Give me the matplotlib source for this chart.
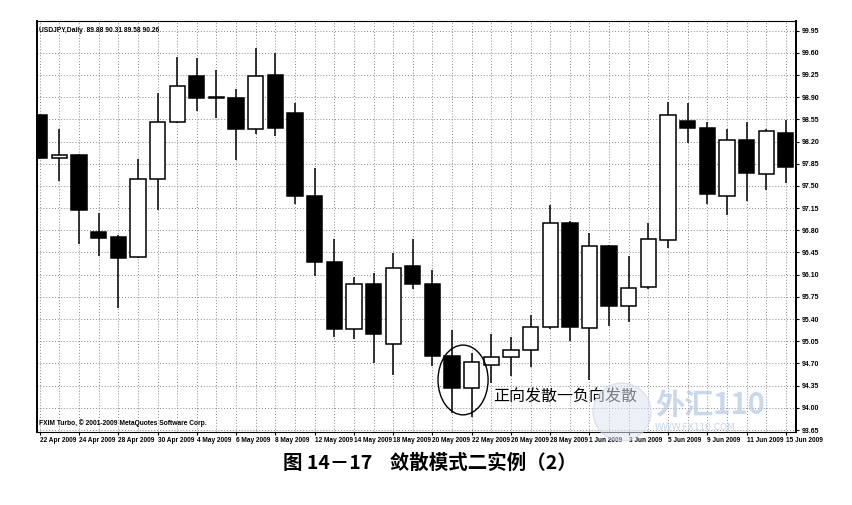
import matplotlib.pyplot as plt
from matplotlib.patches import Ellipse
import numpy as np

# USDJPY daily bars, 22 Apr 2009 - 15 Jun 2009
dates = ["22 Apr 2009", "23 Apr 2009", "24 Apr 2009", "27 Apr 2009", "28 Apr 2009",
         "29 Apr 2009", "30 Apr 2009", "1 May 2009", "4 May 2009", "5 May 2009",
         "6 May 2009", "7 May 2009", "8 May 2009", "11 May 2009", "12 May 2009",
         "13 May 2009", "14 May 2009", "15 May 2009", "18 May 2009", "19 May 2009",
         "20 May 2009", "21 May 2009", "22 May 2009", "25 May 2009", "26 May 2009",
         "27 May 2009", "28 May 2009", "29 May 2009", "1 Jun 2009", "2 Jun 2009",
         "3 Jun 2009", "4 Jun 2009", "5 Jun 2009", "8 Jun 2009", "9 Jun 2009",
         "10 Jun 2009", "11 Jun 2009", "12 Jun 2009", "15 Jun 2009"]

opens = [98.62, 97.94, 97.99, 96.78, 96.69, 96.38, 97.61, 98.51, 99.24, 98.90,
         98.89, 98.39, 99.25, 98.65, 97.34, 96.30, 95.24, 95.95, 95.00, 96.23,
         95.96, 94.82, 94.31, 94.68, 94.81, 94.91, 95.27, 96.92, 95.26, 96.55,
         95.61, 95.90, 96.65, 98.53, 98.42, 97.34, 98.23, 97.69, 98.34]
highs = [98.64, 98.39, 98.00, 97.07, 96.72, 97.93, 98.96, 99.54, 99.52, 99.32,
         99.03, 99.68, 99.60, 98.81, 97.79, 96.67, 96.07, 96.13, 96.44, 96.67,
         96.18, 95.23, 94.86, 95.17, 95.11, 95.46, 97.20, 96.94, 96.76, 96.57,
         96.39, 96.92, 98.83, 98.80, 98.51, 98.39, 98.51, 98.40, 98.54]
lows = [97.92, 97.58, 96.59, 96.40, 95.58, 96.36, 97.12, 98.49, 98.68, 98.57,
        97.91, 98.32, 98.29, 97.21, 96.08, 95.11, 95.08, 94.70, 94.52, 95.88,
        94.66, 93.92, 93.85, 94.39, 94.50, 94.65, 95.25, 95.06, 94.44, 95.29,
        95.36, 95.88, 96.52, 98.17, 97.21, 97.04, 97.26, 97.43, 97.55]
closes = [97.94, 97.98, 97.12, 96.68, 96.37, 97.61, 98.51, 99.07, 98.89, 98.88,
          98.40, 99.24, 98.42, 97.34, 96.30, 95.24, 95.95, 95.17, 96.21, 95.96,
          94.82, 94.32, 94.72, 94.81, 94.92, 95.28, 96.92, 95.28, 96.55, 95.61,
          95.89, 96.67, 98.62, 98.42, 97.37, 98.22, 97.70, 98.37, 97.80]

price_ticks = [93.65, 94.00, 94.35, 94.70, 95.05, 95.40, 95.75, 96.10, 96.45, 96.80,
               97.15, 97.50, 97.85, 98.20, 98.55, 98.90, 99.25, 99.60, 99.95]

header = "USDJPY,Daily  89.88 90.31 89.58 90.26"
footer = "FXIM Turbo, \u00a9 2001-2009 MetaQuotes Software Corp."
note = "正向发散一负向发散"
caption = "图 14－17    敛散模式二实例（2）"

cjk = ["Noto Sans CJK SC", "DejaVu Sans"]
small = "Liberation Sans"

fig = plt.figure(figsize=(8.53, 5.05), dpi=100)
ax = fig.add_axes([0.0434, 0.1446, 0.8898, 0.8138])

x = np.arange(len(dates))
o = np.array(opens)
c = np.array(closes)

# grid
for p in price_ticks:
    ax.axhline(p, color="#888888", lw=0.7, ls=(0, (1, 2)), zorder=0)
for xi in x:
    ax.axvline(xi, color="#888888", lw=0.7, ls=(0, (1, 2)), zorder=0)

# wicks
ax.vlines(x, lows, highs, color="black", lw=1.1, zorder=2)

# bodies
up = c >= o
body_w = 0.78
ax.bar(x[up], (c - o)[up], bottom=o[up], width=body_w,
       color="white", edgecolor="black", linewidth=1.1, zorder=3)
ax.bar(x[~up], (o - c)[~up], bottom=c[~up], width=body_w,
       color="black", edgecolor="black", linewidth=1.1, zorder=3)

ax.set_xlim(-0.14, 38.52)
ax.set_ylim(93.62, 100.10)

# price scale on the right
ax.yaxis.tick_right()
ax.set_yticks(price_ticks)
ax.set_yticklabels([f"{p:.2f}" for p in price_ticks], fontsize=5,
                   fontweight="bold", family=small)
ax.tick_params(axis="y", length=2, pad=2, width=0.8)

ax.set_xticks(x[::2])
ax.set_xticklabels(dates[::2], fontsize=4.7, fontweight="bold", family=small, ha="left")
ax.tick_params(axis="x", length=2, pad=1.5, width=0.8)

for side in ["left", "right"]:
    ax.spines[side].set_linewidth(1.4)
for side in ["top", "bottom"]:
    ax.spines[side].set_linewidth(0.8)

ax.text(0.003, 0.985, header, transform=ax.transAxes, fontsize=4.8,
        fontweight="bold", family=small, va="top", ha="left")
ax.text(0.003, 0.012, footer, transform=ax.transAxes, fontsize=4.8,
        fontweight="bold", family=small, va="bottom", ha="left")

# annotation: circled pair and label
ax.add_patch(Ellipse((21.56, 94.44), 2.55, 1.10, fill=False, ec="black", lw=1.0, zorder=4))
ax.text(23.1, 94.16, note, fontsize=11.5, family=cjk, va="center", ha="left", zorder=5)

# faint site watermark
fig.patches.append(Ellipse((622 / 853, 1 - 412 / 505), 58 / 853, 58 / 505,
                           transform=fig.transFigure, fc="#dde5f2", ec="#c8d5ea",
                           alpha=0.55, zorder=1))
fig.text(655 / 853, 1 - 405 / 505, "外汇110", fontsize=21, family=cjk,
         fontweight="bold", style="italic", color="#b9cbe6", alpha=0.75,
         va="center", ha="left")
fig.text(655 / 853, 1 - 428 / 505, "WWW.FX110.COM", fontsize=6.5,
         color="#c6d3e8", va="center", ha="left")

fig.text(0.504, 1 - 463 / 505, caption, fontsize=14, family=cjk,
         fontweight="bold", ha="center", va="center")

fig.savefig("out.png", dpi=100)
plt.close(fig)
